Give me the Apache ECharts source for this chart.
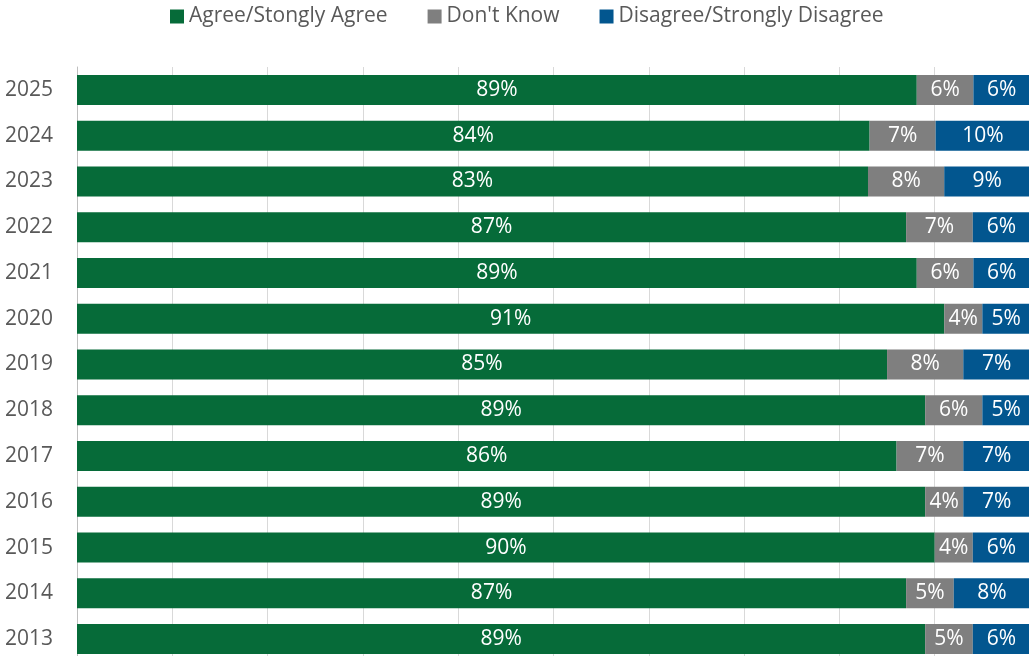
<!DOCTYPE html>
<html>
<head>
<meta charset="utf-8">
<script src="https://cdn.jsdelivr.net/npm/echarts@6/dist/echarts.min.js"></script>
<style>
    html, body {margin: 0; padding: 0; background: #fff;}
    #chart_1 {width: 1029px; height: 656px;}
</style>
</head>
<body>
<div id="chart_1"></div>
<script>
var years = ['2025', '2024', '2023', '2022', '2021', '2020', '2019', '2018', '2017', '2016', '2015', '2014', '2013'];
var agree = [89, 84, 83, 87, 89, 91, 85, 89, 86, 89, 90, 87, 89];
var dontKnow = [6, 7, 8, 7, 6, 4, 8, 6, 7, 4, 4, 5, 5];
var disagree = [6, 10, 9, 6, 6, 5, 7, 5, 7, 7, 6, 8, 6];
var seriesNames = ['Agree/Stongly Agree', "Don't Know", 'Disagree/Strongly Disagree'];

var chart1 = echarts.init(document.getElementById('chart_1'));

// 100% stacked: each row is scaled by its own total
function share(arr) {
    var out = [];
    for (var i = 0; i < arr.length; i++) {
        var total = agree[i] + dontKnow[i] + disagree[i];
        out[i] = arr[i] / total * 100;
    }
    return out;
}

function makeSeries(name, raw, color) {
    return {
        name: name,
        type: 'bar',
        stack: 'all',
        barWidth: 30,
        data: share(raw),
        itemStyle: {color: color},
        label: {
            show: true,
            position: 'inside',
            color: '#fff',
            fontSize: 21,
            fontFamily: 'Open Sans',
            formatter: function (p) { return raw[p.dataIndex] + '%'; }
        }
    };
}

var option = {
    animation: false,
    textStyle: {fontFamily: 'Open Sans'},
    legend: {
        top: 1,
        left: 165,
        itemWidth: 14,
        itemHeight: 14,
        itemGap: 40,
        icon: 'rect',
        textStyle: {color: '#595959', fontSize: 21, fontFamily: 'Open Sans'},
        data: seriesNames
    },
    grid: {left: 77, top: 67, width: 953, height: 595, containLabel: false, outerBoundsMode: 'none'},
    xAxis: {
        type: 'value',
        min: 0,
        max: 100,
        interval: 10,
        axisLabel: {show: false},
        axisLine: {show: false},
        axisTick: {show: false},
        splitLine: {lineStyle: {color: '#d9d9d9', width: 1}}
    },
    yAxis: {
        type: 'category',
        inverse: true,
        data: years,
        axisTick: {show: false},
        axisLine: {lineStyle: {color: '#bfbfbf', width: 1}},
        axisLabel: {color: '#595959', fontSize: 21, margin: 24, fontFamily: 'Open Sans'}
    },
    series: [
        makeSeries(seriesNames[0], agree, '#066b39'),
        makeSeries(seriesNames[1], dontKnow, '#7f7f7f'),
        makeSeries(seriesNames[2], disagree, '#02568f')
    ]
};
chart1.setOption(option);
</script>
</body>
</html>
